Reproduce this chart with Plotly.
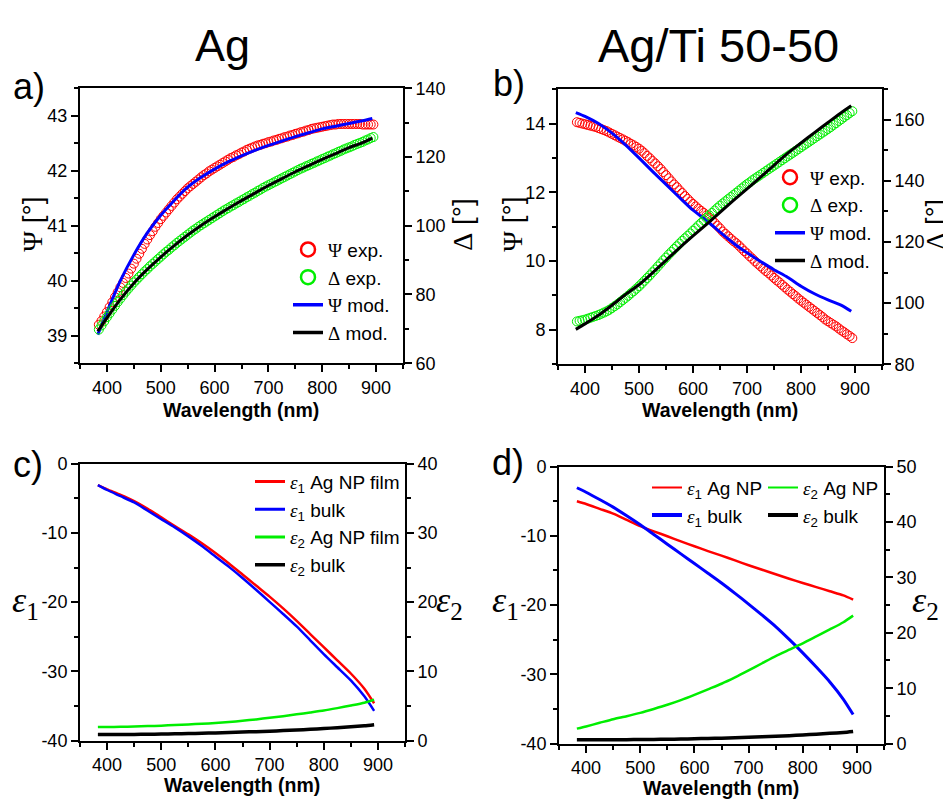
import plotly.graph_objects as go

W, H = 951, 808

# ---------------- data ----------------
wl_exp = list(range(385, 900, 5))
wl_mod = [383, 400, 425, 450, 475, 500, 525, 550, 575, 600, 625, 650, 675, 700, 725, 750,
          775, 800, 825, 850, 875, 893]

# panel a (Ag)
a_psi_exp = [39.20, 39.27, 39.35, 39.43, 39.52, 39.61, 39.70, 39.79,
             39.88, 39.96, 40.05, 40.13, 40.22, 40.31, 40.40, 40.49,
             40.58, 40.67, 40.75, 40.83, 40.90, 40.98, 41.05, 41.12,
             41.18, 41.24, 41.30, 41.36, 41.42, 41.48, 41.53, 41.58,
             41.63, 41.68, 41.72, 41.76, 41.80, 41.84, 41.88, 41.92,
             41.95, 41.99, 42.02, 42.05, 42.08, 42.11, 42.14, 42.17,
             42.20, 42.23, 42.25, 42.28, 42.30, 42.33, 42.35, 42.38,
             42.40, 42.42, 42.44, 42.46, 42.47, 42.49, 42.50, 42.52,
             42.53, 42.55, 42.56, 42.58, 42.59, 42.61, 42.62, 42.64,
             42.65, 42.67, 42.68, 42.70, 42.71, 42.73, 42.74, 42.76,
             42.77, 42.78, 42.79, 42.80, 42.81, 42.82, 42.83, 42.84,
             42.84, 42.85, 42.85, 42.85, 42.85, 42.85, 42.85, 42.85,
             42.85, 42.85, 42.84, 42.84, 42.84, 42.84, 42.84]
a_delta_exp = [69.8, 71.0, 72.2, 73.4, 74.5, 75.6, 76.7, 77.8,
               78.8, 79.8, 80.8, 81.7, 82.6, 83.5, 84.3, 85.1,
               85.9, 86.7, 87.4, 88.2, 88.9, 89.6, 90.3, 91.0,
               91.7, 92.4, 93.0, 93.7, 94.3, 95.0, 95.6, 96.2,
               96.8, 97.4, 98.0, 98.6, 99.1, 99.7, 100.2, 100.7,
               101.2, 101.7, 102.2, 102.7, 103.2, 103.7, 104.2, 104.7,
               105.1, 105.6, 106.0, 106.5, 106.9, 107.4, 107.8, 108.3,
               108.7, 109.2, 109.6, 110.1, 110.5, 111.0, 111.4, 111.8,
               112.2, 112.6, 113.0, 113.4, 113.8, 114.2, 114.6, 115.0,
               115.4, 115.8, 116.2, 116.6, 116.9, 117.3, 117.6, 118.0,
               118.3, 118.7, 119.0, 119.4, 119.7, 120.1, 120.4, 120.8,
               121.1, 121.5, 121.8, 122.2, 122.5, 122.8, 123.1, 123.5,
               123.8, 124.1, 124.4, 124.8, 125.1, 125.5, 125.8]
a_psi_mod = [39.02, 39.43, 40.00, 40.47, 40.87, 41.19, 41.46, 41.70, 41.88, 42.03, 42.16, 42.27,
             42.37, 42.46, 42.54, 42.62, 42.69, 42.76, 42.81, 42.86, 42.91, 42.95]
a_delta_mod = [69.3, 73.2, 78.6, 83.3, 87.3, 90.9, 94.2, 97.3, 100.1, 102.6, 105.0, 107.3, 109.5,
               111.7, 113.7, 115.7, 117.5, 119.3, 121.0, 122.7, 124.2, 125.5]

# panel b (Ag/Ti 50-50)
b_psi_exp = [14.04, 14.02, 14.00, 13.98, 13.96, 13.94, 13.92, 13.90,
             13.87, 13.84, 13.81, 13.78, 13.74, 13.70, 13.66, 13.62,
             13.58, 13.54, 13.50, 13.46, 13.41, 13.37, 13.32, 13.27,
             13.21, 13.14, 13.06, 12.99, 12.91, 12.84, 12.76, 12.68,
             12.59, 12.50, 12.41, 12.32, 12.23, 12.15, 12.06, 11.98,
             11.89, 11.81, 11.73, 11.66, 11.59, 11.52, 11.46, 11.40,
             11.33, 11.26, 11.19, 11.11, 11.03, 10.95, 10.86, 10.79,
             10.72, 10.65, 10.58, 10.52, 10.45, 10.37, 10.29, 10.22,
             10.14, 10.07, 9.99, 9.92, 9.85, 9.78, 9.71, 9.65,
             9.58, 9.51, 9.44, 9.38, 9.31, 9.24, 9.17, 9.11,
             9.04, 8.98, 8.91, 8.85, 8.79, 8.73, 8.67, 8.61,
             8.55, 8.49, 8.43, 8.37, 8.30, 8.25, 8.20, 8.15,
             8.10, 8.04, 7.98, 7.93, 7.87, 7.82, 7.76]
b_delta_exp = [94.0, 94.2, 94.4, 94.6, 94.9, 95.2, 95.5, 95.8,
               96.1, 96.5, 96.9, 97.3, 97.8, 98.4, 99.0, 99.6,
               100.3, 101.0, 101.7, 102.4, 103.2, 103.9, 104.7, 105.5,
               106.4, 107.3, 108.2, 109.1, 110.1, 111.0, 112.0, 113.0,
               114.0, 114.9, 115.9, 116.8, 117.7, 118.6, 119.5, 120.4,
               121.2, 122.0, 122.8, 123.7, 124.5, 125.4, 126.2, 127.1,
               127.9, 128.7, 129.5, 130.3, 131.1, 131.9, 132.6, 133.3,
               134.0, 134.7, 135.4, 136.1, 136.8, 137.5, 138.2, 138.9,
               139.5, 140.2, 140.8, 141.4, 142.0, 142.6, 143.2, 143.8,
               144.4, 145.0, 145.6, 146.2, 146.8, 147.4, 148.0, 148.6,
               149.2, 149.8, 150.4, 151.0, 151.6, 152.2, 152.8, 153.4,
               154.0, 154.6, 155.2, 155.8, 156.4, 157.0, 157.6, 158.3,
               158.9, 159.6, 160.2, 160.9, 161.5, 162.2, 162.8]
b_psi_mod = [14.32, 14.21, 14.00, 13.72, 13.38, 13.00, 12.61, 12.23, 11.85, 11.48, 11.18, 10.84,
             10.52, 10.24, 9.99, 9.75, 9.53, 9.27, 9.05, 8.87, 8.71, 8.54]
b_delta_mod = [91.4, 93.2, 96.0, 99.3, 102.8, 106.0, 109.9, 114.0, 118.1, 122.0, 125.8, 129.7,
               133.6, 137.4, 141.2, 145.1, 149.0, 152.4, 155.8, 159.1, 162.4, 164.6]

# panel c (Ag dielectric function)
c_e1_np = [-3.1, -3.7, -4.5, -5.4, -6.5, -7.75, -9.0, -10.2, -11.5, -12.9, -14.4, -16.0, -17.6,
           -19.2, -20.9, -22.7, -24.6, -26.5, -28.4, -30.3, -32.5, -34.6]
c_e1_bulk = [-3.1, -3.8, -4.7, -5.6, -6.8, -8.0, -9.2, -10.5, -11.9, -13.4, -14.9, -16.5, -18.2,
             -19.95, -21.7, -23.5, -25.5, -27.5, -29.4, -31.3, -33.6, -35.7]
c_e2_np = [1.97, 1.98, 2.0, 2.04, 2.1, 2.17, 2.25, 2.34, 2.44, 2.55, 2.7, 2.87, 3.07, 3.3, 3.54,
           3.8, 4.07, 4.35, 4.7, 5.07, 5.47, 5.9]
c_e2_bulk = [0.88, 0.88, 0.89, 0.9, 0.92, 0.95, 0.98, 1.02, 1.07, 1.12, 1.18, 1.24, 1.3, 1.37,
             1.45, 1.54, 1.64, 1.75, 1.87, 2.0, 2.15, 2.3]

# panel d (Ag/Ti dielectric function)
d_e1_np = [-5.0, -5.4, -6.1, -6.8, -7.7, -8.6, -9.35, -10.05, -10.8, -11.5, -12.2, -12.85, -13.55,
           -14.25, -14.9, -15.55, -16.2, -16.8, -17.4, -18.0, -18.6, -19.2]
d_e1_bulk = [-3.05, -3.7, -4.75, -5.85, -7.1, -8.4, -9.8, -11.2, -12.6, -14.0, -15.4, -16.8,
             -18.3, -19.85, -21.45, -23.1, -24.95, -26.9, -28.95, -31.1, -33.6, -35.8]
d_e2_np = [2.7, 3.1, 3.75, 4.4, 4.95, 5.55, 6.25, 7.0, 7.85, 8.8, 9.8, 10.8, 11.95, 13.2, 14.5,
           15.8, 16.95, 18.1, 19.35, 20.6, 21.9, 23.1]
d_e2_bulk = [0.68, 0.68, 0.69, 0.7, 0.71, 0.73, 0.75, 0.78, 0.82, 0.87, 0.92, 0.98, 1.05, 1.13,
             1.22, 1.32, 1.43, 1.55, 1.7, 1.85, 2.02, 2.2]

x_ticks = [400, 500, 600, 700, 800, 900]
e1_tickvals = [-40, -30, -20, -10, 0]
e1_ticktext = ["-40", "-30", "-20", "-10", "0"]

# ---------------- helpers ----------------
RED, GREEN, BLUE, BLACK = "#ff0000", "#00ee00", "#0000ff", "#000000"
SANS = "Liberation Sans, Arial, sans-serif"
SERIF = "Liberation Serif, Times New Roman, serif"
OFF = 8  # page body margin offset


def X(px):
    return (px - OFF) / W


def Y(py):
    return 1 - (py - OFF) / H


fig = go.Figure()


def circles(x, y, color, xa, ya):
    n = min(len(x), len(y))
    fig.add_trace(go.Scatter(x=x[:n], y=y[:n], mode="markers", xaxis=xa, yaxis=ya,
                             showlegend=False,
                             marker=dict(symbol="circle-open", size=9, color=color,
                                         line=dict(width=1, color=color)),
                             hoverinfo="skip"))


def line(x, y, color, xa, ya, width=3):
    fig.add_trace(go.Scatter(x=x, y=y, mode="lines", xaxis=xa, yaxis=ya, showlegend=False,
                             line=dict(color=color, width=width, shape="spline", smoothing=0.6),
                             hoverinfo="skip"))


_g = [0]


def _grp():
    _g[0] += 1
    return "g%d" % _g[0]


def leg_marker(name, color, legend):
    fig.add_trace(go.Scatter(x=[None], y=[None], mode="markers", name=name, legend=legend,
                             legendgroup=_grp(),
                             marker=dict(symbol="circle-open", size=14, color=color,
                                         line=dict(width=2.5, color=color))))


def leg_line(name, color, legend, width=3.5):
    fig.add_trace(go.Scatter(x=[None], y=[None], mode="lines", name=name, legend=legend,
                             legendgroup=_grp(),
                             line=dict(color=color, width=width)))


# panel a
circles(wl_exp, a_psi_exp, RED, "x", "y")
circles(wl_exp, a_delta_exp, GREEN, "x", "y2")
line(wl_mod, a_psi_mod, BLUE, "x", "y")
line(wl_mod, a_delta_mod, BLACK, "x", "y2")
# panel b
circles(wl_exp, b_psi_exp, RED, "x2", "y3")
circles(wl_exp, b_delta_exp, GREEN, "x2", "y4")
line(wl_mod, b_psi_mod, BLUE, "x2", "y3")
line(wl_mod, b_delta_mod, BLACK, "x2", "y4")
# panel c
line(wl_mod, c_e2_np, GREEN, "x3", "y6", 2.5)
line(wl_mod, c_e2_bulk, BLACK, "x3", "y6", 3.5)
line(wl_mod, c_e1_np, RED, "x3", "y5", 2.5)
line(wl_mod, c_e1_bulk, BLUE, "x3", "y5", 2.5)
# panel d
line(wl_mod, d_e2_np, GREEN, "x4", "y8", 2.5)
line(wl_mod, d_e2_bulk, BLACK, "x4", "y8", 3.5)
line(wl_mod, d_e1_np, RED, "x4", "y7", 2.5)
line(wl_mod, d_e1_bulk, BLUE, "x4", "y7", 3)

PSI = '<span style="font-family:Liberation Serif">Ψ</span>'
DEL = '<span style="font-family:Liberation Serif">Δ</span>'
EPS = '<span style="font-family:Liberation Serif"><i>ε</i></span>'

for lg in ["legend", "legend2"]:
    leg_marker(PSI + " exp.", RED, lg)
    leg_marker(DEL + " exp.", GREEN, lg)
    leg_line(PSI + " mod.", BLUE, lg)
    leg_line(DEL + " mod.", BLACK, lg)

leg_line(EPS + "<sub>1</sub> Ag NP film", RED, "legend3", 3)
leg_line(EPS + "<sub>1</sub> bulk", BLUE, "legend3", 3)
leg_line(EPS + "<sub>2</sub> Ag NP film", GREEN, "legend3", 3)
leg_line(EPS + "<sub>2</sub> bulk", BLACK, "legend3", 3.5)

leg_line(EPS + "<sub>1</sub> Ag NP", RED, "legend4", 2)
leg_line(EPS + "<sub>1</sub> bulk", BLUE, "legend4", 4)
leg_line(EPS + "<sub>2</sub> Ag NP", GREEN, "legend5", 2)
leg_line(EPS + "<sub>2</sub> bulk", BLACK, "legend5", 4)

# ---------------- axes ----------------
tickfont = dict(family=SANS, size=18, color="black")


def xax(dom, anchor):
    return dict(domain=dom, anchor=anchor, range=[350, 950], tickvals=x_ticks,
                showline=True, linecolor="black", linewidth=2, mirror=True,
                ticks="outside", ticklen=7, tickwidth=1.5, tickcolor="black",
                minor=dict(ticks="outside", ticklen=4, tickwidth=1.5, dtick=50, tick0=350,
                           tickcolor="black"),
                showgrid=False, zeroline=False, tickfont=tickfont)


def yax(dom, anchor, rng, dtick, mdtick, side="left", overlay=None, tv=None, tt=None):
    d = dict(anchor=anchor, range=rng, side=side,
             showline=True, linecolor="black", linewidth=2,
             ticks="outside", ticklen=7, tickwidth=1.5, tickcolor="black",
             minor=dict(ticks="outside", ticklen=4, tickwidth=1.5, dtick=mdtick, tickcolor="black"),
             showgrid=False, zeroline=False, tickfont=tickfont)
    if tv is not None:
        d["tickvals"] = tv
        d["ticktext"] = tt
    else:
        d["dtick"] = dtick
    if overlay:
        d["overlaying"] = overlay
    else:
        d["domain"] = dom
    return d


dxa = [X(80), X(403)]
dya = [Y(362), Y(80)]
dxb = [X(558), X(882)]
dyb = [Y(363), Y(81)]
dxc = [X(80), X(405)]
dyc = [Y(749), Y(465)]
dxd = [X(559), X(884)]
dyd = [Y(752), Y(468)]

fig.update_layout(
    xaxis=xax(dxa, "y"),
    yaxis=yax(dya, "x", [38.5, 43.5], 1, 0.5),
    yaxis2=yax(None, "x", [60, 140], 20, 10, "right", "y"),
    xaxis2=xax(dxb, "y3"),
    yaxis3=yax(dyb, "x2", [7, 15], 2, 1),
    yaxis4=yax(None, "x2", [80, 170], 20, 10, "right", "y3"),
    xaxis3=xax(dxc, "y5"),
    yaxis5=yax(dyc, "x3", [-40, 0], 10, 5, tv=e1_tickvals, tt=e1_ticktext),
    yaxis6=yax(None, "x3", [0, 40], 10, 5, "right", "y5"),
    xaxis4=xax(dxd, "y7"),
    yaxis7=yax(dyd, "x4", [-40, 0], 10, 5, tv=e1_tickvals, tt=e1_ticktext),
    yaxis8=yax(None, "x4", [0, 50], 10, 5, "right", "y7"),
)


# ---------------- legends ----------------
def legend_cfg(px, py, gap, size=19):
    return dict(x=X(px), y=Y(py), xanchor="left", yanchor="top", bgcolor="rgba(0,0,0,0)",
                borderwidth=0, font=dict(family=SANS, size=size, color="black"),
                itemwidth=30, tracegroupgap=gap, traceorder="normal")


fig.update_layout(
    legend=legend_cfg(288, 226, 3),
    legend2=legend_cfg(770, 152, 3),
    legend3=legend_cfg(250, 464, 4),
    legend4=legend_cfg(647, 470, 4),
    legend5=legend_cfg(763, 470, 4),
)

# ---------------- annotations ----------------
ann = []


def text(px, py, s, size, family=SANS, angle=0, xanchor="center"):
    ann.append(dict(x=X(px), y=Y(py), xref="paper", yref="paper", text=s, showarrow=False,
                    xanchor=xanchor, yanchor="middle", textangle=angle,
                    font=dict(family=family, size=size, color="black")))


text(222, 36, "Ag", 45)
text(718, 36, "Ag/Ti 50-50", 47)
text(29, 78, "a)", 36)
text(509, 75, "b)", 36)
text(28, 466, "c)", 36)
text(508, 464, "d)", 36)
text(33, 220, PSI + " [°]", 28, angle=-90)
text(463, 220, DEL + " [°]", 28, angle=-90)
text(513, 220, PSI + " [°]", 28, angle=-90)
text(936, 220, DEL + " [°]", 27, angle=-90)
for cx, cy in [(241, 410), (720, 410), (242, 794), (721, 798)]:
    text(cx, cy, "<b>Wavelength (nm)</b>", 19.5)
text(25, 607, "<i>ε</i><sub>1</sub>", 36, family=SERIF)
text(434, 607, "<i>ε</i><sub>2</sub>", 36, family=SERIF, xanchor="left")
text(506, 607, "<i>ε</i><sub>1</sub>", 36, family=SERIF)
text(910, 607, "<i>ε</i><sub>2</sub>", 36, family=SERIF, xanchor="left")

fig.update_layout(
    annotations=ann,
    width=W, height=H,
    margin=dict(l=0, r=0, t=0, b=0),
    paper_bgcolor="white", plot_bgcolor="rgba(0,0,0,0)",
    font=dict(family=SANS, color="black"),
)

fig.write_html("out.html")
